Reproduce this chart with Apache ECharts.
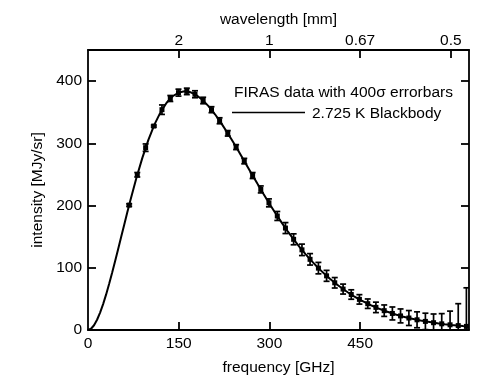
<!DOCTYPE html>
<html><head><meta charset="utf-8">
<script src="https://cdn.jsdelivr.net/npm/echarts@6/dist/echarts.min.js"></script>
<style>html,body{margin:0;padding:0;background:#fff}#c{width:500px;height:383px}</style>
</head><body><div id="c"></div>
<script>
// FIRAS measured points (frequency GHz, intensity MJy/sr, 400-sigma error MJy/sr)
const firasFreq = [68.1, 81.5, 95.3, 108.8, 122.3, 136.1, 149.6, 163.4, 176.9, 190.4, 204.2, 217.6, 231.1, 244.9, 258.4, 272.2, 285.7, 299.2, 313.0, 326.5, 340.0, 353.8, 367.2, 381.0, 394.5, 408.0, 421.8, 435.3, 448.8, 462.6, 476.1, 489.8, 503.3, 516.8, 530.6, 544.1, 557.9, 571.4, 584.9, 598.7, 612.2, 625.7];
const firasIntensity = [200.72, 249.51, 293.02, 327.77, 354.08, 372.08, 381.49, 383.48, 378.90, 368.83, 354.06, 336.28, 316.08, 293.92, 271.43, 248.24, 225.94, 204.33, 183.26, 163.83, 145.75, 128.84, 113.57, 99.45, 87.04, 75.88, 65.77, 57.01, 49.22, 42.27, 36.35, 31.06, 26.58, 22.64, 19.26, 16.39, 13.81, 11.72, 9.92, 8.36, 7.09, 5.80];
const firasError400 = [2.0, 3.6, 6.0, 1.6, 7.6, 4.8, 5.6, 5.2, 5.6, 5.2, 4.8, 4.8, 4.4, 4.0, 4.4, 4.8, 5.6, 6.4, 7.2, 8.8, 8.8, 9.2, 9.2, 9.2, 8.8, 8.4, 8.0, 7.6, 7.6, 7.6, 8.4, 9.2, 10.4, 11.2, 12.0, 12.8, 13.2, 14.0, 16.4, 22.0, 35.2, 62.0];

// 2.725 K blackbody curve, read as a list of points
const bbFreq = [0, 5, 10, 15, 20, 25, 30, 35, 40, 45, 50, 55, 60, 65, 70, 80, 90, 100, 110, 120, 130, 140, 150, 160, 170, 180, 190, 200, 210, 220, 230, 240, 250, 260, 270, 280, 290, 300, 310, 320, 330, 340, 350, 360, 370, 380, 390, 400, 410, 420, 430, 440, 450, 460, 470, 480, 490, 500, 510, 520, 530, 540, 550, 560, 570, 580, 590, 600, 610, 620, 630];
const bbIntensity = [0, 2.00, 7.66, 16.46, 27.94, 41.65, 57.19, 74.18, 92.26, 111.14, 130.50, 150.09, 169.68, 189.06, 208.05, 244.18, 277.06, 305.93, 330.38, 350.16, 365.19, 375.63, 381.67, 383.70, 381.94, 376.97, 369.12, 358.90, 346.67, 332.85, 317.86, 301.98, 285.49, 268.75, 251.94, 235.29, 218.92, 203.04, 187.69, 172.99, 158.98, 145.74, 133.26, 121.55, 110.63, 100.47, 91.05, 82.36, 74.36, 67.02, 60.30, 54.17, 48.58, 43.51, 38.92, 34.76, 31.00, 27.62, 24.58, 21.84, 19.39, 17.20, 15.24, 13.49, 11.93, 10.54, 9.30, 8.20, 7.23, 6.36, 5.60];

// Axis ticks
const freqTickValues = [0, 150, 300, 450];
const freqTickMarks = [150, 300, 450];
const wavelengthTickFreq = [150, 300, 450, 600];
const wavelengthTickLabels = ['2', '1', '0.67', '0.5'];
const intensityTicks = [0, 100, 200, 300, 400];
const intensityTickMarks = [100, 200, 300, 400];

const legendLine1 = 'FIRAS data with 400σ errorbars';
const legendLine2 = '2.725 K Blackbody';

const FONT = 'Liberation Sans, Arial, Helvetica, sans-serif';
const FS = 15.5;
const INK = '#000';

const chart = echarts.init(document.getElementById('c'), null, {renderer: 'canvas'});

const axisLineStyle = {show: true, onZero: false, lineStyle: {color: INK, width: 1.8}};
const tickStyle = {show: true, inside: true, length: 8, lineStyle: {color: INK, width: 1.8}};
const txt = {fontFamily: FONT, fontSize: FS, color: INK};

const errData = firasFreq.map((f, i) => [f, firasIntensity[i], firasError400[i]]);

chart.setOption({
  animation: false,
  backgroundColor: '#fff',
  grid: {left: 88, right: 31, top: 50, bottom: 53, containLabel: false},
  xAxis: [
    {
      type: 'value', position: 'bottom', min: 0, max: 630,
      name: 'frequency [GHz]', nameLocation: 'middle', nameGap: 30,
      nameTextStyle: txt,
      axisLine: axisLineStyle,
      axisTick: Object.assign({customValues: freqTickMarks}, tickStyle),
      axisLabel: Object.assign({customValues: freqTickValues, margin: 6}, txt),
      splitLine: {show: false}
    },
    {
      type: 'value', position: 'top', min: 0, max: 630,
      name: 'wavelength [mm]', nameLocation: 'middle', nameGap: 19,
      nameTextStyle: txt,
      axisLine: axisLineStyle,
      axisTick: Object.assign({customValues: wavelengthTickFreq}, tickStyle),
      axisLabel: Object.assign({
        customValues: wavelengthTickFreq, margin: 1,
        formatter: v => { const k = wavelengthTickFreq.indexOf(v); return k >= 0 ? wavelengthTickLabels[k] : ''; }
      }, txt),
      splitLine: {show: false}
    }
  ],
  yAxis: [
    {
      type: 'value', position: 'left', min: 0, max: 450, interval: 100,
      name: 'intensity [MJy/sr]', nameLocation: 'middle', nameGap: 38, nameRotate: 90,
      nameTextStyle: txt,
      axisLine: axisLineStyle,
      axisTick: Object.assign({customValues: intensityTickMarks}, tickStyle),
      axisLabel: Object.assign({customValues: intensityTicks, margin: 6}, txt),
      splitLine: {show: false}
    },
    {
      type: 'value', position: 'right', min: 0, max: 450, interval: 100,
      axisLine: axisLineStyle,
      axisTick: Object.assign({customValues: intensityTickMarks}, tickStyle),
      axisLabel: {show: false},
      splitLine: {show: false}
    }
  ],
  series: [
    {
      type: 'line', name: legendLine2, xAxisIndex: 0, yAxisIndex: 0,
      data: bbFreq.map((f, i) => [f, bbIntensity[i]]),
      showSymbol: false, smooth: false,
      lineStyle: {color: INK, width: 2},
      z: 2
    },
    {
      type: 'custom', name: legendLine1, xAxisIndex: 0, yAxisIndex: 0,
      clip: true,
      data: errData,
      encode: {x: 0, y: 1},
      renderItem: function (params, api) {
        const x = api.value(0), y = api.value(1), e = api.value(2);
        const p = api.coord([x, y]);
        const hi = api.coord([x, y + e]);
        const lo = api.coord([x, y - e]);
        const cw = 3;
        const st = {stroke: INK, lineWidth: 1.7};
        return {
          type: 'group',
          children: [
            {type: 'line', shape: {x1: p[0], y1: lo[1], x2: p[0], y2: hi[1]}, style: st},
            {type: 'line', shape: {x1: p[0] - cw, y1: hi[1], x2: p[0] + cw, y2: hi[1]}, style: st},
            {type: 'line', shape: {x1: p[0] - cw, y1: lo[1], x2: p[0] + cw, y2: lo[1]}, style: st},
            {type: 'rect', shape: {x: p[0] - 2.5, y: p[1] - 2.5, width: 5, height: 5}, style: {fill: INK}}
          ]
        };
      },
      z: 3
    }
  ],
  graphic: [
    {type: 'text', left: 234, top: 85, style: {text: legendLine1, fontFamily: FONT, fontSize: FS, fill: INK}},
    {type: 'line', shape: {x1: 232, y1: 112.5, x2: 305, y2: 112.5}, style: {stroke: INK, lineWidth: 1.6}},
    {type: 'text', left: 312, top: 106, style: {text: legendLine2, fontFamily: FONT, fontSize: FS, fill: INK}}
  ]
});
</script>
</body></html>
